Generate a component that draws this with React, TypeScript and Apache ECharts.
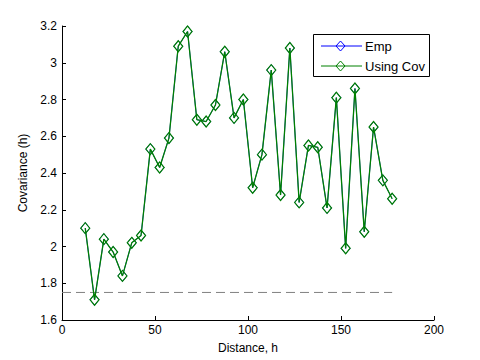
import React, { useEffect, useRef } from "react";
import * as echarts from "echarts";

const distances = [12.5, 17.5, 22.5, 27.5, 32.5, 37.5, 42.5, 47.5, 52.5, 57.5, 62.5, 67.5, 72.5, 77.5, 82.5, 87.5, 92.5, 97.5, 102.5, 107.5, 112.5, 117.5, 122.5, 127.5, 132.5, 137.5, 142.5, 147.5, 152.5, 157.5, 162.5, 167.5, 172.5, 177.5];
const empValues = [2.10, 1.71, 2.04, 1.97, 1.84, 2.02, 2.06, 2.53, 2.43, 2.59, 3.09, 3.17, 2.69, 2.68, 2.77, 3.06, 2.70, 2.80, 2.32, 2.50, 2.96, 2.28, 3.08, 2.24, 2.55, 2.54, 2.21, 2.81, 1.99, 2.86, 2.08, 2.65, 2.36, 2.26];
const covValues = [2.10, 1.71, 2.04, 1.97, 1.84, 2.02, 2.06, 2.53, 2.43, 2.59, 3.09, 3.17, 2.69, 2.68, 2.77, 3.06, 2.70, 2.80, 2.32, 2.50, 2.96, 2.28, 3.08, 2.24, 2.55, 2.54, 2.21, 2.81, 1.99, 2.86, 2.08, 2.65, 2.36, 2.26];
const sillX = [0, 177.5];
const sillValue = 1.75;
const legendNames = ["Emp", "Using Cov"];
const legendColors = ["#0000ff", "#008000"];

const FONT = "'Liberation Sans', Arial, Helvetica, sans-serif";

export default function App() {
  const ref = useRef<HTMLDivElement>(null);
  useEffect(() => {
    if (!ref.current) return;
    const chart = echarts.init(ref.current, null, { renderer: "svg" });
    const legendX = 313;
    const legendY = 34;
    const legendGraphics: any[] = [
      {
        type: "rect",
        shape: { x: legendX + 0.5, y: legendY + 0.5, width: 116, height: 42 },
        style: { fill: "#fff", stroke: "#000", lineWidth: 1 },
        z: 100,
      },
    ];
    legendNames.forEach((name, i) => {
      const cy = legendY + 12 + i * 20;
      legendGraphics.push(
        {
          type: "line",
          shape: { x1: legendX + 8, y1: cy, x2: legendX + 49, y2: cy },
          style: { stroke: legendColors[i], lineWidth: 1 },
          z: 101,
        },
        {
          type: "polygon",
          shape: { points: [[legendX + 27.5, cy - 5], [legendX + 32, cy], [legendX + 27.5, cy + 5], [legendX + 23, cy]] },
          style: { fill: "none", stroke: legendColors[i], lineWidth: 1 },
          z: 102,
        },
        {
          type: "text",
          x: legendX + 52,
          y: cy,
          style: { text: name, font: `13px ${FONT}`, fill: "#000", verticalAlign: "middle", align: "left" },
          z: 102,
        }
      );
    });

    chart.setOption({
      animation: false,
      backgroundColor: "#fff",
      grid: { left: 62, right: 46, top: 26, bottom: 40, containLabel: false },
      xAxis: {
        type: "value",
        min: 0,
        max: 200,
        interval: 50,
        name: "Distance, h",
        nameLocation: "middle",
        nameGap: 22,
        nameTextStyle: { fontFamily: FONT, fontSize: 12, color: "#000" },
        axisLine: { show: true, lineStyle: { color: "#000", width: 1 } },
        axisTick: { show: true, inside: true, length: 4, lineStyle: { color: "#000" } },
        axisLabel: { fontFamily: FONT, fontSize: 12, color: "#000", margin: 4 },
        splitLine: { show: false },
      },
      yAxis: {
        type: "value",
        min: 1.6,
        max: 3.2,
        interval: 0.2,
        name: "Covariance (h)",
        nameLocation: "middle",
        nameGap: 32,
        nameTextStyle: { fontFamily: FONT, fontSize: 12, color: "#000" },
        axisLine: { show: true, lineStyle: { color: "#000", width: 1 } },
        axisTick: { show: true, inside: true, length: 4, lineStyle: { color: "#000" } },
        axisLabel: {
          fontFamily: FONT,
          fontSize: 12,
          color: "#000",
          margin: 5,
          formatter: (v: number) => String(parseFloat(v.toFixed(1))),
        },
        splitLine: { show: false },
      },
      series: [
        {
          name: "Emp",
          type: "line",
          data: distances.map((d, i) => [d, empValues[i]]),
          symbol: "diamond",
          symbolSize: [9, 11],
          showAllSymbol: true,
          lineStyle: { color: "#0000ff", width: 0.8 },
          itemStyle: { color: "rgba(0,0,0,0)", borderColor: "#0000ff", borderWidth: 0.8 },
          z: 2,
        },
        {
          name: "Using Cov",
          type: "line",
          data: distances.map((d, i) => [d, covValues[i]]),
          symbol: "diamond",
          symbolSize: [9, 11],
          showAllSymbol: true,
          lineStyle: { color: "#008000", width: 1.3 },
          itemStyle: { color: "rgba(0,0,0,0)", borderColor: "#008000", borderWidth: 1.2 },
          z: 3,
        },
        {
          name: "sill",
          type: "line",
          data: sillX.map((d) => [d, sillValue]),
          symbol: "none",
          lineStyle: { color: "#808080", width: 1, type: [9, 5] },
          z: 1,
        },
      ],
      graphic: legendGraphics,
    });
    return () => chart.dispose();
  }, []);
  return <div ref={ref} style={{ width: 480, height: 360, position: "fixed", left: 0, top: 0 }} />;
}
